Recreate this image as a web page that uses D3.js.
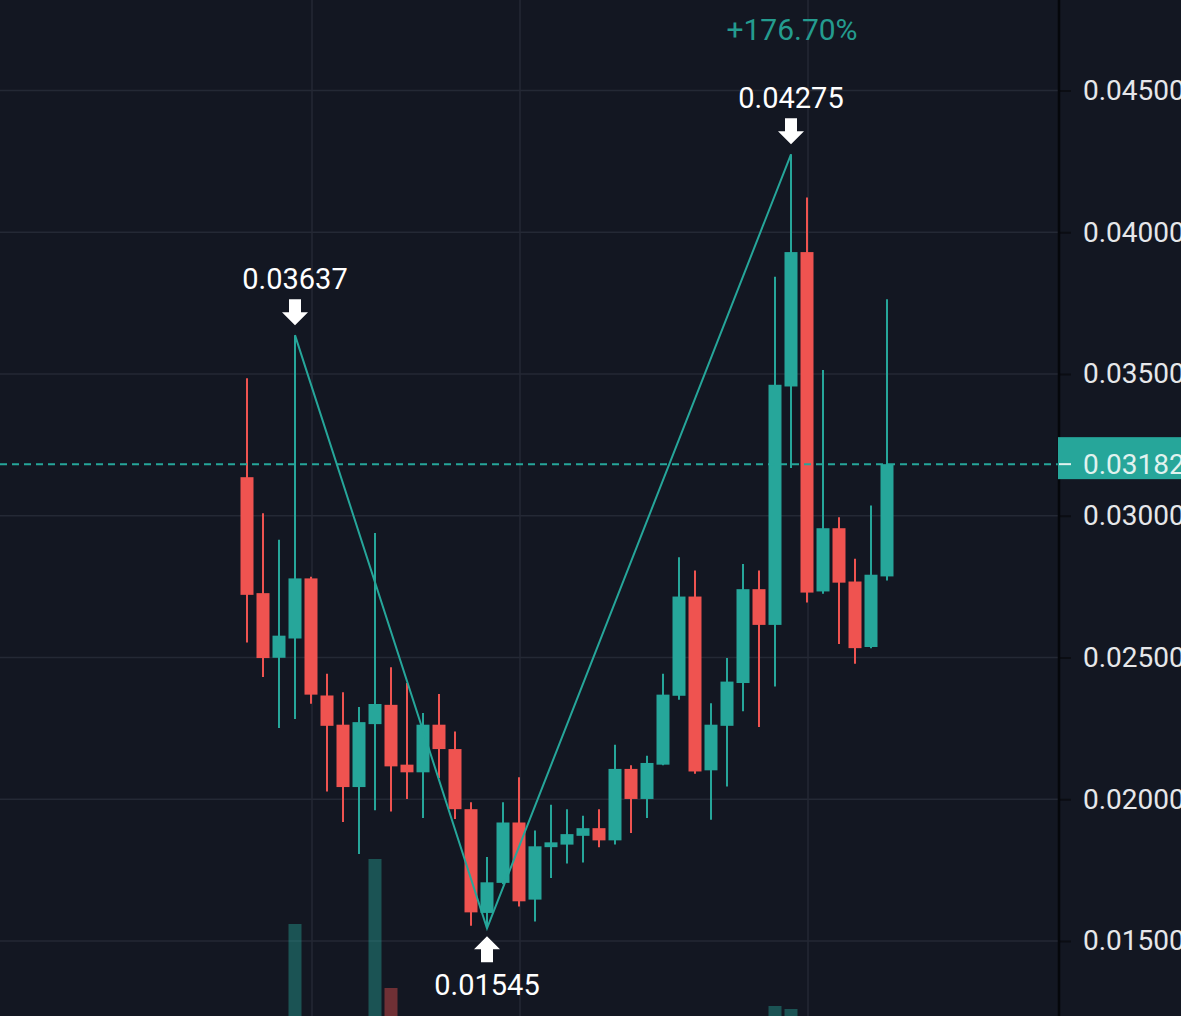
<!DOCTYPE html>
<html>
<head>
<meta charset="utf-8">
<script src="https://cdn.jsdelivr.net/npm/d3@7"></script>
<style>
  html, body { margin: 0; padding: 0; background: #131722; overflow: hidden; }
  svg { display: block; }
</style>
</head>
<body>
<svg id="chart" width="1181" height="1016"></svg>
<script>
// ---- data ----
const opens  = [0.03136,0.02727,0.02499,0.02567,0.02779,0.02366,0.02263,0.02043,0.02265,0.02333,
                0.02122,0.02095,0.02263,0.02177,0.01965,0.01599,0.01705,0.01918,0.01646,0.01831,
                0.01840,0.01871,0.01898,0.01855,0.02107,0.02001,0.02122,0.02365,0.02715,0.02102,
                0.02259,0.02410,0.02741,0.02615,0.03456,0.03930,0.02733,0.02956,0.02768,0.02537,
                0.02786];
const highs  = [0.03485,0.03009,0.02915,0.03637,0.02785,0.02443,0.02377,0.02325,0.02939,0.02466,
                0.02410,0.02304,0.02371,0.02239,0.01989,0.01796,0.01989,0.02078,0.01890,0.01981,
                0.01965,0.01942,0.01965,0.02192,0.02120,0.02153,0.02443,0.02854,0.02807,0.02339,
                0.02498,0.02830,0.02807,0.03843,0.04275,0.04123,0.03514,0.02995,0.02848,0.03036,
                0.03764];
const lows   = [0.02553,0.02431,0.02251,0.02283,0.02337,0.02027,0.01920,0.01807,0.01961,0.01957,
                0.02001,0.01934,0.02075,0.01930,0.01554,0.01545,0.01700,0.01622,0.01569,0.01722,
                0.01773,0.01777,0.01831,0.01840,0.01881,0.01934,0.02120,0.02351,0.02090,0.01928,
                0.02045,0.02310,0.02255,0.02398,0.03168,0.02694,0.02725,0.02548,0.02478,0.02533,
                0.02772];
const closes = [0.02721,0.02498,0.02577,0.02779,0.02369,0.02259,0.02043,0.02272,0.02336,0.02116,
                0.02095,0.02263,0.02177,0.01965,0.01601,0.01707,0.01918,0.01640,0.01834,0.01848,
                0.01877,0.01898,0.01855,0.02107,0.02001,0.02128,0.02369,0.02715,0.02098,0.02263,
                0.02415,0.02741,0.02615,0.03462,0.03930,0.02729,0.02956,0.02764,0.02533,0.02792,
                0.03182];
const volumes = [12,12,12,116,12,12,12,12,181,52,
                 12,12,12,12,12,12,12,12,12,12,
                 12,12,12,12,12,12,12,12,12,12,
                 12,12,12,34,31,12,12,12,12,12,
                 12];
const priceTicks = [0.015,0.020,0.025,0.030,0.035,0.040,0.045];
const timeGridIdx = [4,17,35];
const pivotIdx  = [3,15,34];
const pivotKind = ["high","low","high"];

// ---- styles ----
const BG = "#131722", GRID = "#242935", UP = "#26a69a", DOWN = "#ef5350";
const FONT = "Roboto, 'Liberation Sans', Arial, sans-serif";

const svg = d3.select("#chart");
svg.append("rect").attr("width",1181).attr("height",1016).attr("fill",BG);

const n = closes.length;
const x = d3.scaleLinear().domain([0, n-1]).range([247, 887]);
const y = d3.scaleLinear().domain([0.015, 0.045]).range([941, 90.5]);
const vy = d3.scaleLinear().domain([0, 200]).range([1040, 840]);
const axisX = 1059;
const bodyW = 13;

// grid
const g = svg.append("g");
g.selectAll("line.h").data(priceTicks).join("line")
  .attr("x1",0).attr("x2",axisX).attr("y1",d=>y(d)).attr("y2",d=>y(d))
  .attr("stroke",GRID).attr("stroke-width",1.5);
g.selectAll("line.v").data(timeGridIdx).join("line")
  .attr("x1",d=>x(d)+1).attr("x2",d=>x(d)+1).attr("y1",0).attr("y2",1016)
  .attr("stroke",GRID).attr("stroke-width",1.5);

// volumes
const idx = d3.range(n);
svg.append("g").selectAll("rect").data(idx).join("rect")
  .attr("x", i => x(i) - bodyW/2)
  .attr("width", bodyW)
  .attr("y", i => vy(volumes[i]))
  .attr("height", i => vy(0) - vy(volumes[i]))
  .attr("fill", i => closes[i] >= opens[i] ? UP : DOWN)
  .attr("opacity", 0.42);

// candles
const cg = svg.append("g");
cg.selectAll("line").data(idx).join("line")
  .attr("x1", i => x(i)).attr("x2", i => x(i))
  .attr("y1", i => y(highs[i])).attr("y2", i => y(lows[i]))
  .attr("stroke", i => closes[i] >= opens[i] ? UP : DOWN)
  .attr("stroke-width", 2);
cg.selectAll("rect").data(idx).join("rect")
  .attr("x", i => x(i) - bodyW/2)
  .attr("width", bodyW)
  .attr("y", i => y(Math.max(opens[i], closes[i])))
  .attr("height", i => Math.max(1.5, Math.abs(y(opens[i]) - y(closes[i]))))
  .attr("fill", i => closes[i] >= opens[i] ? UP : DOWN);

// zigzag
const pivVal = (k) => pivotKind[k] === "high" ? highs[pivotIdx[k]] : lows[pivotIdx[k]];
const pts = pivotIdx.map((d,k) => [x(d), y(pivVal(k))]);
svg.append("path").attr("d", d3.line()(pts))
  .attr("fill","none").attr("stroke",UP).attr("stroke-width",2);

// pivot labels + arrows
const fmt5 = d3.format(".5f");
pivotIdx.forEach((d,k) => {
  const px = x(d), v = pivVal(k), py = y(v);
  const ag = svg.append("g");
  if (pivotKind[k] === "high") {
    const tip = py - 10;
    ag.append("path").attr("fill","#ffffff")
      .attr("d", `M${px-6},${tip-26} L${px+6},${tip-26} L${px+6},${tip-13} L${px+13},${tip-13} L${px},${tip} L${px-13},${tip-13} L${px-6},${tip-13} Z`);
    ag.append("text").attr("x",px).attr("y",tip-36).attr("text-anchor","middle")
      .attr("fill","#ffffff").attr("font-family",FONT).attr("font-size",29).text(fmt5(v));
  } else {
    const tip = py + 8;
    ag.append("path").attr("fill","#ffffff")
      .attr("d", `M${px},${tip} L${px+13},${tip+13} L${px+6},${tip+13} L${px+6},${tip+26} L${px-6},${tip+26} L${px-6},${tip+13} L${px-13},${tip+13} Z`);
    ag.append("text").attr("x",px).attr("y",tip+59).attr("text-anchor","middle")
      .attr("fill","#ffffff").attr("font-family",FONT).attr("font-size",29).text(fmt5(v));
  }
});

// percent change label
const pct = (pivVal(2) / pivVal(1) - 1) * 100;
svg.append("text").attr("x", x(pivotIdx[2])+1).attr("y", 40).attr("text-anchor","middle")
  .attr("fill","#249c8f").attr("font-family",FONT).attr("font-size",30)
  .text("+" + pct.toFixed(2) + "%");

// last price dashed line
const last = closes[n-1];
svg.append("line").attr("x1",0).attr("x2",axisX).attr("y1",y(last)).attr("y2",y(last))
  .attr("stroke",UP).attr("stroke-width",2).attr("stroke-dasharray","7,5");

// price axis
svg.append("rect").attr("x",axisX).attr("y",0).attr("width",1181-axisX).attr("height",1016).attr("fill",BG);
const axis = d3.axisRight(y).tickValues(priceTicks).tickFormat(fmt5).tickSize(12).tickPadding(12);
const ax = svg.append("g").attr("transform",`translate(${axisX},0)`).call(axis);
ax.select(".domain").remove();
ax.selectAll(".tick line").attr("stroke","#0b0d13").attr("stroke-width",2);
ax.selectAll(".tick text").attr("fill","#e6e7ea").attr("font-family",FONT).attr("font-size",28);
svg.append("line").attr("x1",axisX).attr("x2",axisX).attr("y1",0).attr("y2",1016)
  .attr("stroke","#05070b").attr("stroke-width",2.5);

// last price badge
const bg = svg.append("g");
bg.append("rect").attr("x",axisX-1).attr("y",y(last)-27).attr("width",1181-axisX+1).attr("height",42)
  .attr("fill",UP);
bg.append("line").attr("x1",axisX).attr("x2",axisX+12).attr("y1",y(last)).attr("y2",y(last))
  .attr("stroke","#e0f2ef").attr("stroke-width",2);
bg.append("text").attr("x",axisX+24).attr("y",y(last)).attr("dy","0.35em")
  .attr("fill","#e0f2ef").attr("font-family",FONT).attr("font-size",28).text(fmt5(last));
</script>
</body>
</html>
